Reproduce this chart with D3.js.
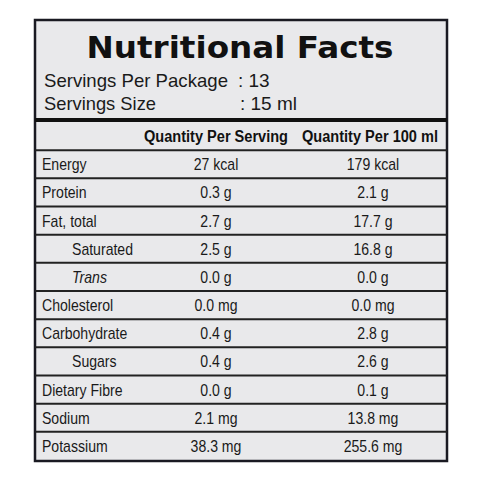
<!DOCTYPE html>
<html><head><meta charset="utf-8">
<script src="https://cdn.jsdelivr.net/npm/d3@7"></script>
<style>body{margin:0;background:#fff}</style>
</head><body><svg width="480" height="480"></svg>
<script>
const nutrients = ['Energy','Protein','Fat, total','Saturated','Trans','Cholesterol','Carbohydrate','Sugars','Dietary Fibre','Sodium','Potassium'];
const indented = ['Saturated','Trans','Sugars'];
const perServing = ['27 kcal','0.3 g','2.7 g','2.5 g','0.0 g','0.0 mg','0.4 g','0.4 g','0.0 g','2.1 mg','38.3 mg'];
const per100 = ['179 kcal','2.1 g','17.7 g','16.8 g','0.0 g','0.0 mg','2.8 g','2.6 g','0.1 g','13.8 mg','255.6 mg'];
const headers = ['Quantity Per Serving','Quantity Per 100 ml'];

const svg = d3.select('svg');
const font = 'Liberation Sans, Arial, sans-serif';
const left = 35, right = 447;

svg.append('rect').attr('x', left).attr('y', 20).attr('width', right - left).attr('height', 441)
  .attr('fill', '#e9e9eb').attr('stroke', '#1a1a22').attr('stroke-width', 2.5);

svg.append('text').attr('x', 240).attr('y', 58).attr('text-anchor', 'middle')
  .attr('font-family', 'DejaVu Sans, sans-serif').attr('font-weight', 'bold').attr('font-size', 31)
  .attr('textLength', 307).attr('lengthAdjust', 'spacingAndGlyphs')
  .attr('fill', '#111').text('Nutritional Facts');

const info = [['Servings Per Package', ': 13'], ['Servings Size', ': 15 ml']];
info.forEach((d, i) => {
  const g = svg.append('g').attr('font-family', font).attr('font-size', 19).attr('fill', '#1a1a1a');
  g.append('text').attr('x', 44).attr('y', 87 + i * 23).attr('textLength', i ? 112 : 184)
    .attr('lengthAdjust', 'spacingAndGlyphs').text(d[0]);
  g.append('text').attr('x', 238 + (i ? 2 : 0)).attr('y', 87 + i * 23).text(d[1]);
});

svg.append('line').attr('x1', left).attr('x2', right).attr('y1', 120).attr('y2', 120)
  .attr('stroke', '#111').attr('stroke-width', 4);

const y = d3.scaleBand().domain(['header', ...nutrients]).range([122, 460]);
const colX = [216, 373];

svg.selectAll('text.hdr').data(headers).join('text').attr('class', 'hdr')
  .attr('x', (d, i) => i ? 370 : 216).attr('y', y('header') + y.bandwidth() / 2 + 6)
  .attr('text-anchor', 'middle').attr('font-family', font).attr('font-weight', 'bold')
  .attr('font-size', 16).attr('textLength', (d, i) => i ? 136 : 144)
  .attr('lengthAdjust', 'spacingAndGlyphs').attr('fill', '#111').text(d => d);

svg.selectAll('line.row').data(nutrients).join('line').attr('class', 'row')
  .attr('x1', left).attr('x2', right).attr('y1', d => y(d)).attr('y2', d => y(d))
  .attr('stroke', '#222').attr('stroke-width', 2);

const rows = svg.selectAll('g.r').data(nutrients).join('g').attr('class', 'r')
  .attr('font-family', font).attr('font-size', 16).attr('fill', '#1a1a1a')
  .attr('transform', d => `translate(0,${y(d) + y.bandwidth() / 2 + 6})`);
rows.append('text').attr('x', d => indented.includes(d) ? 72 : 42)
  .attr('font-style', d => d === 'Trans' ? 'italic' : 'normal')
  .attr('transform', d => `translate(${indented.includes(d) ? 72 : 42},0) scale(0.88,1) translate(${-(indented.includes(d) ? 72 : 42)},0)`)
  .text(d => d);
rows.append('text').attr('x', colX[0]).attr('text-anchor', 'middle')
  .attr('transform', `translate(${colX[0]},0) scale(0.88,1) translate(${-colX[0]},0)`).text((d, i) => perServing[i]);
rows.append('text').attr('x', colX[1]).attr('text-anchor', 'middle')
  .attr('transform', `translate(${colX[1]},0) scale(0.88,1) translate(${-colX[1]},0)`).text((d, i) => per100[i]);
</script></body></html>
